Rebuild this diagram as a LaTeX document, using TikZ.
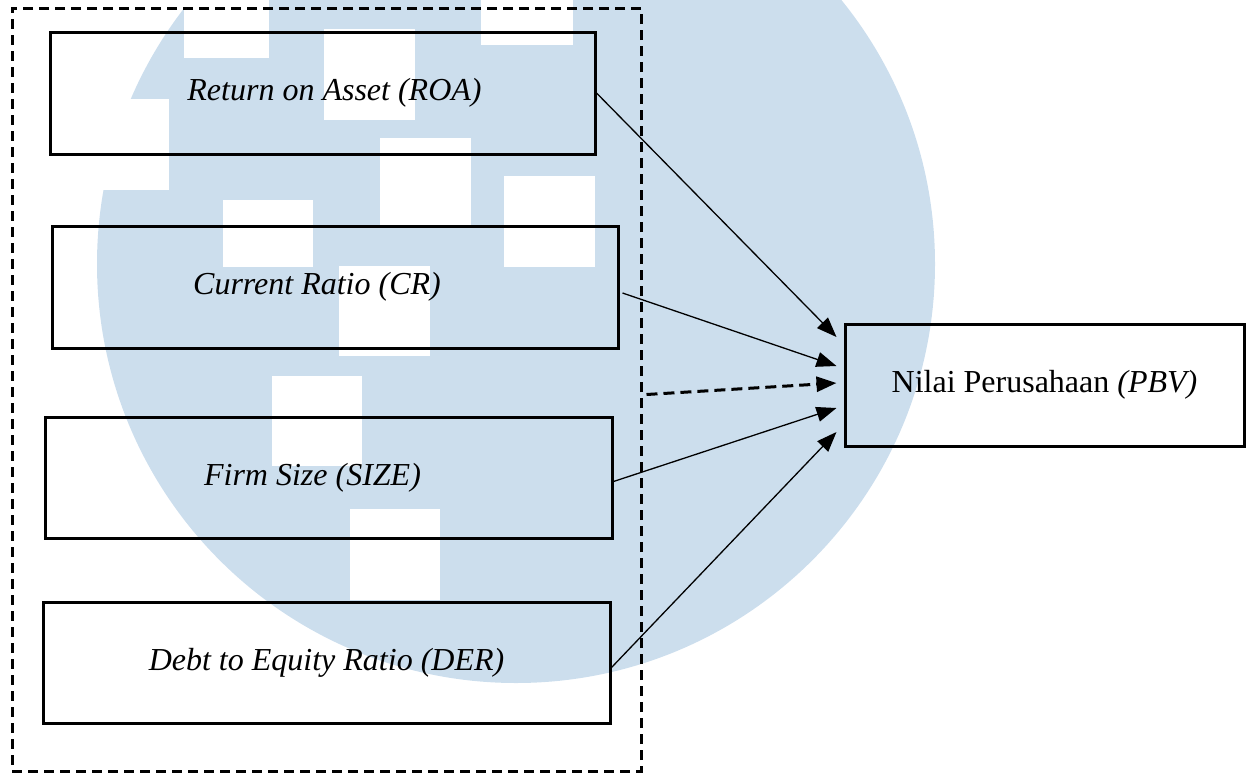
\documentclass[tikz,border=0pt]{standalone}
\usepackage{fontspec}
\setmainfont{Liberation Serif}
\usepackage{tikz}
\usetikzlibrary{arrows.meta}
\definecolor{Cw}{RGB}{204,222,237}
\definecolor{Ck}{RGB}{0,0,0}

\begin{document}
\begin{tikzpicture}[x=1pt,y=-1pt,
    var/.style={draw=Ck,line width=3pt,inner sep=0pt,
      font=\fontsize{32}{38}\selectfont\itshape},
    link/.style={Ck,line width=1.3pt,-{Triangle[length=20pt,width=15pt]}}]
    \useasboundingbox (0,0) rectangle (1249,774);
    \begin{scope}
      \clip (0,0) rectangle (1249,774);
      \fill[Cw] (516,264) circle (419pt);
    \end{scope}
    \foreach \xa/\ya/\xb/\yb in {184/0/269/58,324/29/415/120,481/0/573/45,
        90/99/169/190,380/138/471/228,504/176/595/267,223/200/313/267,
        339/266/430/356,272/376/362/466,350/509/440/600}{
      \fill[white] (\xa,\ya) rectangle (\xb,\yb);
    }
    \node[draw=Ck,line width=3pt,dash pattern=on 10pt off 6pt,
      minimum width=629pt,minimum height=763pt] (grp) at (326.5,389.5) {};
    \node[var,minimum width=545pt,minimum height=122pt] (roa) at (322.5,93)
      {\hspace*{24pt}Return on Asset (ROA)};
    \node[var,minimum width=566pt,minimum height=122pt] (cr) at (335,287)
      {\hspace*{-36pt}Current Ratio (CR)};
    \node[var,minimum width=567pt,minimum height=121pt] (size) at (328.5,477.5)
      {\hspace*{-32pt}Firm Size (SIZE)};
    \node[var,minimum width=567pt,minimum height=121pt] (der) at (326.5,662.5)
      {Debt to Equity Ratio (DER)};
    \node[var,font=\fontsize{32}{38}\selectfont,minimum width=399pt,
      minimum height=122pt] (pbv) at (1044.5,385)
      {Nilai Perusahaan \textit{(PBV)}};
    \draw[link] (roa.east) -- ([xshift=-7pt,yshift=48pt]pbv.west);
    \draw[link] ([xshift=3pt,yshift=-6pt]cr.east)
      -- ([xshift=-7pt,yshift=19pt]pbv.west);
    \draw[link,line width=3pt,dash pattern=on 11pt off 6pt]
      ([xshift=4pt,yshift=-5pt]grp.east) -- ([xshift=-7pt,yshift=2pt]pbv.west);
    \draw[link] ([yshift=-4pt]size.east) -- ([xshift=-7pt,yshift=-23pt]pbv.west);
    \draw[link] ([yshift=-5pt]der.east) -- ([xshift=-7pt,yshift=-47pt]pbv.west);
  \end{tikzpicture}
\end{document}
